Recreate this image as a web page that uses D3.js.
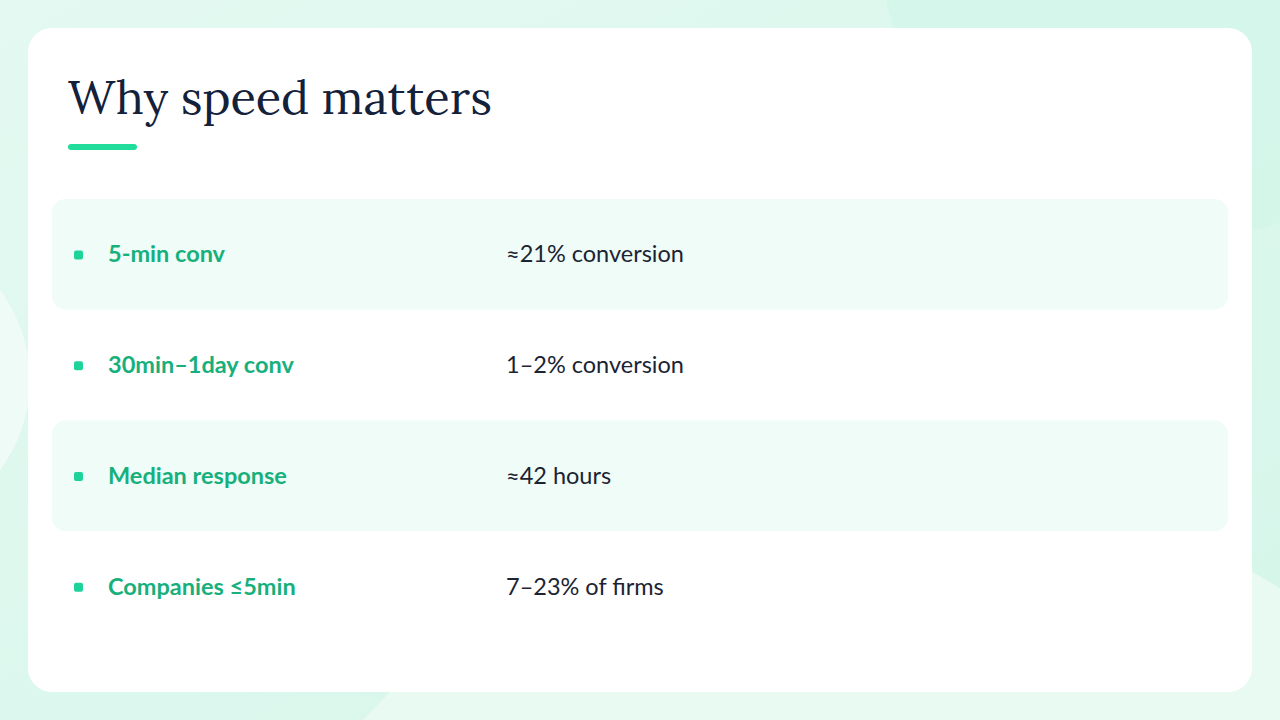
<!DOCTYPE html>
<html><head><meta charset="utf-8">
<script src="https://cdn.jsdelivr.net/npm/d3@7"></script>
<style>body{margin:0;background:#dff8ef;}svg{display:block}</style>
</head><body><svg id="c" width="1280" height="720"></svg>
<script>
const metrics = ["5-min conv", "30min–1day conv", "Median response", "Companies ≤5min"];
const values = ["≈21% conversion", "1–2% conversion", "≈42 hours", "7–23% of firms"];
const title = "Why speed matters";

const svg = d3.select("#c");
const defs = svg.append("defs");
const g = defs.append("linearGradient").attr("id","bg").attr("x1",0).attr("y1",0).attr("x2",1).attr("y2",1);
g.append("stop").attr("offset",0).attr("stop-color","#e3f9f1");
g.append("stop").attr("offset",1).attr("stop-color","#d6f6ea");
svg.append("rect").attr("width",1280).attr("height",720).attr("fill","url(#bg)");
svg.append("circle").attr("cx",1180).attr("cy",-60).attr("r",300).attr("fill","#d2f5e8").attr("opacity",0.7);
svg.append("circle").attr("cx",-120).attr("cy",380).attr("r",150).attr("fill","#eefbf6");
svg.append("circle").attr("cx",900).attr("cy",1200).attr("r",720).attr("fill","#e9faf3");
svg.append("rect").attr("x",28).attr("y",28).attr("width",1224).attr("height",664).attr("rx",24).attr("fill","#fff");

svg.append("text").attr("x",68).attr("y",114).text(title)
  .attr("font-family","Lora, 'Liberation Serif', 'DejaVu Serif', serif").attr("font-size",47).attr("fill","#14213a");
svg.append("rect").attr("x",68).attr("y",144).attr("width",69).attr("height",6).attr("rx",3).attr("fill","#22dc9c");

const y = d3.scaleBand().domain(d3.range(metrics.length)).range([199,642]);
const rows = svg.selectAll("g.row").data(metrics).join("g").attr("class","row")
  .attr("transform",(d,i)=>`translate(0,${y(i)})`);
rows.filter((d,i)=>i%2===0).append("rect").attr("x",52).attr("width",1176).attr("height",y.bandwidth()).attr("rx",14).attr("fill","#effcf7");
const cy = y.bandwidth()/2;
rows.append("rect").attr("x",74).attr("y",cy-4).attr("width",9).attr("height",9).attr("rx",2).attr("fill","#1ed39a");
rows.append("text").attr("x",108).attr("y",cy+8).text(d=>d)
  .attr("font-family","Lato, 'Open Sans', sans-serif").attr("font-weight",700).attr("font-size",23.5).attr("fill","#17b07c");
rows.append("text").attr("x",506).attr("y",cy+8).text((d,i)=>values[i])
  .attr("font-family","Lato, 'Open Sans', sans-serif").attr("font-size",23.5).attr("fill","#1c2433");
</script></body></html>
